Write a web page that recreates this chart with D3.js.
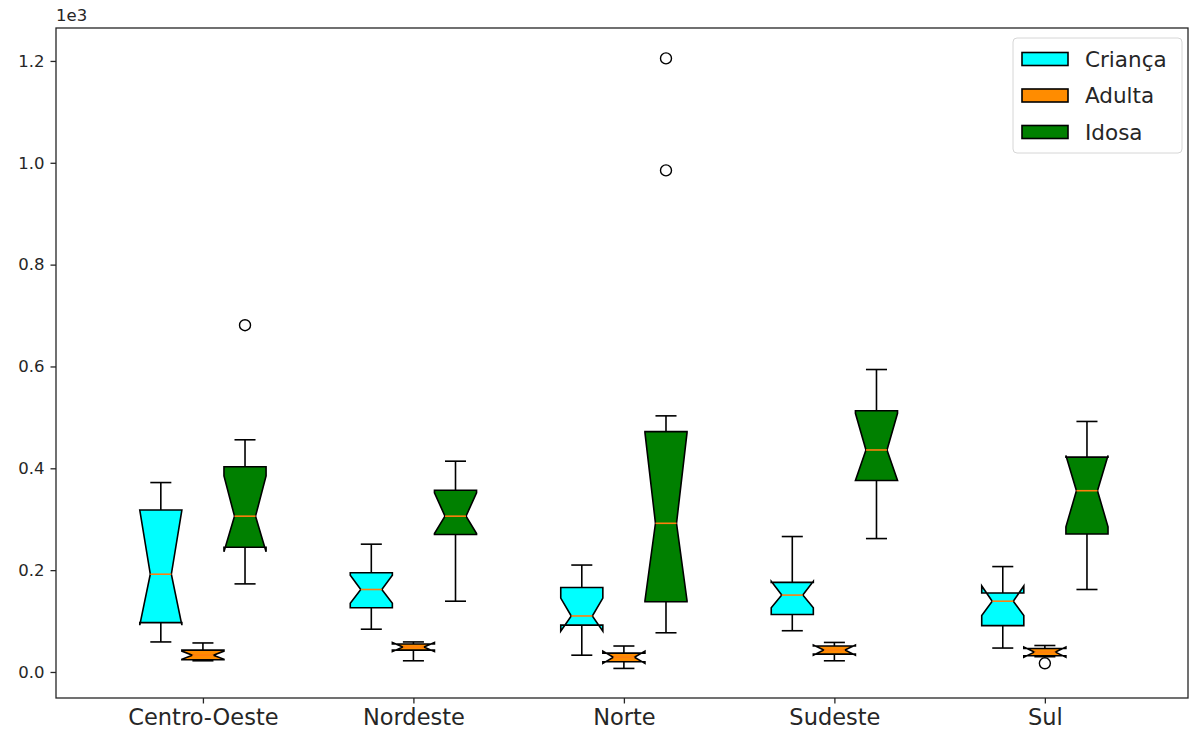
<!DOCTYPE html>
<html>
<head>
<meta charset="utf-8">
<script src="https://cdn.jsdelivr.net/npm/d3@7"></script>
<style>
  body { margin: 0; background: #fff; }
  text { font-family: "DejaVu Sans", sans-serif; fill: #262626; }
</style>
</head>
<body>
<div id="chart"></div>
<script>
// regions on the x axis and the three age groups
var regions = ["Centro-Oeste", "Nordeste", "Norte", "Sudeste", "Sul"];
var groups = ["Criança", "Adulta", "Idosa"];
var groupColors = ["#00ffff", "#ff8c00", "#008000"];

// [whisker low, q1, median, q3, whisker high] per region
var criancaStats = [
  [59, 97, 192, 318, 372],
  [84, 126, 162, 195, 251],
  [33, 92, 110, 166, 210],
  [81, 113, 151, 176, 266],
  [47, 91, 139, 155, 207]
];
var adultaStats = [
  [22, 24, 33, 43, 57],
  [22, 43, 49, 55, 59],
  [7, 20, 29, 37, 51],
  [22, 35, 43, 51, 58],
  [30, 32, 39, 46, 52]
];
var idosaStats = [
  [173, 245, 306, 403, 456],
  [139, 270, 306, 357, 414],
  [77, 138, 292, 472, 503],
  [262, 376, 436, 513, 594],
  [162, 271, 356, 422, 492]
];

// notch [low, high] per region
var criancaNotch = [[92, 318], [135, 190], [80, 145], [126, 178], [111, 169]];
var adultaNotch = [[25, 41], [40, 58], [17, 41], [33, 53], [29, 49]];
var idosaNotch = [[236, 385], [272, 352], [140, 470], [376, 508], [285, 425]];

// outliers per region
var criancaFliers = [[], [], [], [], []];
var adultaFliers = [[], [], [], [], [17]];
var idosaFliers = [[681], [], [985, 1205], [], []];

var yTicks = [0, 200, 400, 600, 800, 1000, 1200];

var width = 1192, height = 738;
// plot area edges (window.top is reserved, so use other names)
var plotLeft = 56, plotRight = 1188, plotTop = 28, plotBottom = 698;

var svg = d3.select("#chart").append("svg")
  .attr("width", width)
  .attr("height", height);

var x = d3.scaleLinear()
  .domain([0.302, 5.68])
  .range([plotLeft, plotRight]);

var y = d3.scaleLinear()
  .domain([-51.1, 1264.7])
  .range([plotBottom, plotTop]);

var boxWidth = 0.2;
var offsets = [-0.2, 0, 0.2];

var series = [
  { stats: criancaStats, notch: criancaNotch, fliers: criancaFliers },
  { stats: adultaStats, notch: adultaNotch, fliers: adultaFliers },
  { stats: idosaStats, notch: idosaNotch, fliers: idosaFliers }
];

// one layer per group, like separate boxplot calls
series.forEach(function (s, g) {
  var layer = svg.append("g").attr("class", "group-" + g);

  s.stats.forEach(function (st, i) {
    var pos = i + 1 + offsets[g];
    var bl = x(pos - boxWidth / 2), br = x(pos + boxWidth / 2);
    var cl = x(pos - boxWidth / 4), cr = x(pos + boxWidth / 4);
    var xc = x(pos);
    var nlo = s.notch[i][0], nhi = s.notch[i][1];

    // whiskers
    layer.append("line")
      .attr("x1", xc).attr("x2", xc)
      .attr("y1", y(st[1])).attr("y2", y(st[0]))
      .attr("stroke", "#000").attr("stroke-width", 1.6);
    layer.append("line")
      .attr("x1", xc).attr("x2", xc)
      .attr("y1", y(st[3])).attr("y2", y(st[4]))
      .attr("stroke", "#000").attr("stroke-width", 1.6);

    // caps
    [st[0], st[4]].forEach(function (v) {
      layer.append("line")
        .attr("x1", cl).attr("x2", cr)
        .attr("y1", y(v)).attr("y2", y(v))
        .attr("stroke", "#000").attr("stroke-width", 1.6);
    });

    // notched box, same vertex order as matplotlib
    var pts = [
      [bl, y(st[1])], [br, y(st[1])], [br, y(nlo)], [cr, y(st[2])],
      [br, y(nhi)], [br, y(st[3])], [bl, y(st[3])], [bl, y(nhi)],
      [cl, y(st[2])], [bl, y(nlo)], [bl, y(st[1])]
    ];
    layer.append("path")
      .attr("d", d3.line()(pts) + "Z")
      .attr("fill", groupColors[g])
      .attr("stroke", "#000")
      .attr("stroke-width", 1.6)
      .attr("stroke-linejoin", "miter");

    // median
    layer.append("line")
      .attr("x1", cl).attr("x2", cr)
      .attr("y1", y(st[2])).attr("y2", y(st[2]))
      .attr("stroke", "#ff7f0e").attr("stroke-width", 1.6);

    // fliers
    s.fliers[i].forEach(function (v) {
      layer.append("circle")
        .attr("cx", xc).attr("cy", y(v))
        .attr("r", 5.5)
        .attr("fill", "none")
        .attr("stroke", "#000")
        .attr("stroke-width", 1.4);
    });
  });
});

// axes
var xAxis = svg.append("g")
  .attr("transform", "translate(0," + plotBottom + ")")
  .call(d3.axisBottom(x)
    .tickValues(regions.map(function (d, i) { return i + 1; }))
    .tickFormat(function (d) { return regions[d - 1]; })
    .tickSize(5.5)
    .tickPadding(6));
xAxis.select(".domain").remove();
xAxis.selectAll("text").style("font-size", "22.5px").attr("fill", "#262626");
xAxis.selectAll("line").attr("stroke", "#262626").attr("stroke-width", 1.3);

var yAxis = svg.append("g")
  .attr("transform", "translate(" + plotLeft + ",0)")
  .call(d3.axisLeft(y)
    .tickValues(yTicks)
    .tickFormat(function (d) { return (d / 1000).toFixed(1); })
    .tickSize(5.5)
    .tickPadding(6));
yAxis.select(".domain").remove();
yAxis.selectAll("text").style("font-size", "16.5px").attr("fill", "#262626");
yAxis.selectAll("line").attr("stroke", "#262626").attr("stroke-width", 1.3);

// offset text
svg.append("text")
  .attr("x", plotLeft)
  .attr("y", plotTop - 7)
  .style("font-size", "16.5px")
  .text("1e3");

// frame
svg.append("rect")
  .attr("x", plotLeft).attr("y", plotTop)
  .attr("width", plotRight - plotLeft).attr("height", plotBottom - plotTop)
  .attr("fill", "none")
  .attr("stroke", "#262626")
  .attr("stroke-width", 1.3);

// legend
var legend = svg.append("g").attr("transform", "translate(1013,38)");
legend.append("rect")
  .attr("width", 169).attr("height", 115)
  .attr("rx", 4)
  .attr("fill", "#fff").attr("fill-opacity", 0.8)
  .attr("stroke", "#d6d6d6");

groups.forEach(function (name, g) {
  var row = legend.append("g").attr("transform", "translate(0," + (21 + g * 36.5) + ")");
  row.append("rect")
    .attr("x", 9).attr("y", -6.5)
    .attr("width", 46).attr("height", 13)
    .attr("fill", groupColors[g])
    .attr("stroke", "#000")
    .attr("stroke-width", 1.6);
  row.append("text")
    .attr("x", 72).attr("dy", "0.35em")
    .style("font-size", "21.5px")
    .text(name);
});
</script>
</body>
</html>
